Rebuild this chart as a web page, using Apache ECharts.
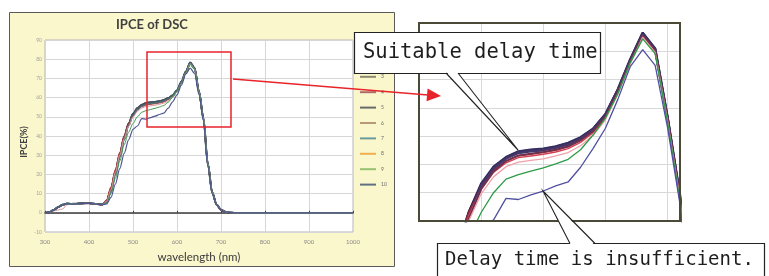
<!DOCTYPE html>
<html>
<head>
<meta charset="utf-8">
<title>IPCE of DSC</title>
<script src="https://cdn.jsdelivr.net/npm/echarts@6/dist/echarts.min.js"></script>
<style>
html, body { margin: 0; padding: 0; background: #fff; }
#main { width: 769px; height: 276px; }
</style>
</head>
<body>
<div id="main"></div>
<script>
// wavelength (nm)
const wavelength = [300, 310, 320, 330, 340, 350, 360, 370, 380, 390,
  400, 410, 420, 430, 440, 450, 460, 470, 480, 490,
  500, 510, 520, 530, 540, 550, 560, 570, 580, 590,
  600, 610, 620, 630, 640, 650, 660, 670, 680, 690,
  700, 710, 720, 730, 1000];

// IPCE(%) for each delay setting
const ipce1 = [0, 0.3, 1.5, 3.0, 4.2, 4.8, 4.6, 4.7, 4.9, 5.0,
  5.0, 4.8, 4.5, 4.3, 6.0, 12.5, 21.5, 30.5, 39.5, 46.5,
  51.6, 54.6, 56.3, 57.3, 57.6, 57.8, 58.2, 58.8, 59.8, 61.3,
  63.9, 68.3, 73.6, 78.3, 75.4, 63.2, 49.2, 25.5, 10.5, 4.2,
  1.6, 0.5, 0.1, 0, 0];
const ipce2 = [0, 0.2, 1.4, 2.9, 4.1, 4.7, 4.6, 4.7, 4.8, 4.9,
  4.9, 4.7, 4.4, 4.2, 6.3, 13.0, 22.0, 31.0, 40.0, 46.6,
  51.4, 54.4, 56.1, 57.1, 57.4, 57.6, 58.0, 58.6, 59.6, 61.1,
  63.7, 68.1, 73.4, 78.1, 75.3, 63.3, 49.5, 26.0, 10.8, 4.3,
  1.6, 0.5, 0.1, 0, 0];
const ipce3 = [0, 0.3, 1.5, 3.0, 4.2, 4.8, 4.7, 4.7, 4.9, 5.0,
  5.0, 4.8, 4.5, 4.3, 5.8, 12.0, 21.0, 30.0, 39.0, 46.2,
  51.3, 54.4, 56.2, 57.2, 57.5, 57.7, 58.1, 58.7, 59.7, 61.2,
  63.8, 68.2, 73.5, 78.2, 75.5, 63.4, 49.6, 25.8, 10.6, 4.2,
  1.5, 0.5, 0.1, 0, 0];
const ipce4 = [0, 0.2, 1.3, 2.8, 4.0, 4.7, 4.6, 4.6, 4.8, 4.9,
  4.9, 4.7, 4.4, 4.3, 6.6, 13.5, 22.5, 31.5, 40.0, 46.4,
  51.0, 54.0, 55.6, 56.5, 56.8, 57.1, 57.5, 58.1, 59.2, 60.8,
  63.4, 67.9, 73.2, 77.9, 75.1, 63.0, 49.0, 25.2, 10.4, 4.1,
  1.5, 0.5, 0.1, 0, 0];
const ipce5 = [0, 0.3, 1.5, 3.1, 4.3, 4.9, 4.7, 4.8, 4.9, 5.0,
  5.0, 4.8, 4.6, 4.4, 5.6, 11.5, 20.5, 29.5, 38.5, 45.8,
  51.2, 54.3, 56.0, 57.0, 57.3, 57.5, 57.9, 58.5, 59.5, 61.0,
  63.6, 68.0, 73.3, 78.0, 75.2, 63.1, 49.3, 25.6, 10.7, 4.3,
  1.6, 0.6, 0.1, 0, 0];
const ipce6 = [0, 0.2, 1.4, 2.9, 4.1, 4.7, 4.6, 4.7, 4.8, 4.9,
  4.9, 4.7, 4.4, 4.2, 6.2, 12.8, 21.8, 30.8, 39.5, 45.9,
  50.6, 53.6, 55.3, 56.2, 56.5, 56.8, 57.2, 57.8, 58.9, 60.6,
  63.2, 67.7, 73.0, 77.7, 74.9, 62.8, 48.8, 25.0, 10.3, 4.1,
  1.5, 0.5, 0.1, 0, 0];
const ipce7 = [0, 0.3, 1.4, 3.0, 4.2, 4.8, 4.6, 4.7, 4.8, 4.9,
  5.0, 4.8, 4.5, 4.3, 5.4, 11.0, 20.0, 29.0, 38.0, 45.3,
  50.6, 53.8, 55.6, 56.6, 56.9, 57.2, 57.6, 58.2, 59.3, 60.9,
  63.5, 67.9, 73.2, 77.9, 75.2, 63.2, 49.4, 25.7, 10.8, 4.3,
  1.6, 0.6, 0.1, 0, 0];
const ipce8 = [0, 0.2, 1.0, 1.5, 2.0, 4.2, 4.5, 4.6, 4.8, 4.9,
  4.9, 4.7, 4.4, 4.2, 5.8, 12.0, 21.0, 30.0, 38.5, 45.0,
  49.8, 52.8, 54.6, 55.4, 55.7, 56.0, 56.5, 57.1, 58.3, 60.1,
  62.9, 67.4, 72.8, 77.5, 74.8, 62.7, 48.9, 25.2, 10.4, 4.1,
  1.5, 0.5, 0.1, 0, 0];
const ipce9 = [0, 0.2, 1.3, 2.8, 4.0, 4.6, 4.5, 4.6, 4.8, 4.9,
  4.9, 4.7, 4.4, 4.2, 5.2, 10.0, 18.0, 27.0, 35.5, 42.0,
  46.5, 50.0, 52.4, 53.2, 53.8, 54.4, 55.1, 55.9, 57.6, 60.2,
  63.2, 67.5, 73.0, 77.2, 74.6, 62.5, 48.6, 25.0, 10.3, 4.1,
  1.5, 0.5, 0.1, 0, 0];
const ipce10 = [0, 0.3, 1.3, 2.8, 4.0, 4.6, 4.5, 4.6, 4.8, 4.9,
  4.9, 4.7, 4.4, 4.2, 4.6, 8.0, 15.0, 23.0, 31.0, 38.0,
  43.5, 45.2, 49.0, 48.8, 49.6, 50.3, 51.2, 51.9, 54.5, 57.8,
  61.4, 66.5, 72.3, 75.3, 72.5, 61.5, 48.0, 24.5, 10.0, 4.0,
  1.5, 0.5, 0.1, 0, 0];

const seriesNames = ['1', '2', '3', '4', '5', '6', '7', '8', '9', '10'];
const curves = [ipce1, ipce2, ipce3, ipce4, ipce5, ipce6, ipce7, ipce8, ipce9, ipce10];

// 轴刻度
const xTicks = { min: 300, max: 1000, step: 100 };
const yTicks = { min: -10, max: 90, step: 10 };
const zoomX = { min: 450, max: 660, step: 50 };
const zoomY = { min: 45, max: 80, step: 5 };

// styles
const mainColors = ['#3d4a58', '#6b2a35', '#4a5866', '#b03a3a', '#3f4d5a',
  '#c04848', '#4d7078', '#d89a9a', '#3f9a55', '#4f5690'];
const mainWidths = [1.8, 1.5, 1.8, 1.2, 1.8, 1.2, 1.5, 1, 1, 1.2];
const zoomColors = ['#2e2a5c', '#5a1830', '#3a3060', '#b02838', '#44386a',
  '#d04050', '#6a3050', '#f0a0a8', '#2e9a48', '#5050a0'];
const zoomWidths = [2.4, 2, 2.4, 1.4, 2.2, 1.4, 1.8, 1.3, 1.3, 1.3];
const legendColors = ['#8a8a70', '#b06a6a', '#8a8a70', '#b06a6a', '#6a6a6a',
  '#b89a7a', '#6a9a9a', '#f0b050', '#98c070', '#607080'];

function toPairs(vals) {
  return wavelength.map((w, i) => [w, vals[i]]);
}

const chart = echarts.init(document.getElementById('main'), null, { renderer: 'canvas' });

const series = [];
curves.forEach((vals, i) => {
  series.push({
    name: seriesNames[i],
    type: 'line',
    xAxisIndex: 0,
    yAxisIndex: 0,
    data: toPairs(vals),
    symbol: 'none',
    smooth: 0.3,
    smoothMonotone: 'x',
    lineStyle: { color: mainColors[i], width: mainWidths[i] },
    itemStyle: { color: mainColors[i] }
  });
});
// 放大图
curves.forEach((vals, i) => {
  series.push({
    name: seriesNames[i],
    type: 'line',
    xAxisIndex: 2,
    yAxisIndex: 1,
    data: toPairs(vals),
    symbol: 'none',
    clip: true,
    lineStyle: { color: zoomColors[i], width: zoomWidths[i] },
    itemStyle: { color: zoomColors[i] }
  });
});

const gridLine = { lineStyle: { color: '#d6d6d6', width: 1 } };

chart.setOption({
  animation: false,
  backgroundColor: '#fff',
  textStyle: { fontFamily: 'Lato' },
  title: {
    text: 'IPCE of DSC',
    left: 116,
    top: 18,
    padding: 0,
    textStyle: { fontSize: 13, fontWeight: 'bold', color: '#404040', fontFamily: 'Lato' }
  },
  legend: {
    orient: 'vertical',
    left: 360,
    top: 42,
    padding: 0,
    icon: 'rect',
    itemWidth: 16,
    itemHeight: 2,
    itemGap: 7.4,
    textStyle: { fontSize: 5, color: '#666', lineHeight: 8 },
    data: seriesNames.map((n, i) => ({ name: n, itemStyle: { color: legendColors[i] } }))
  },
  grid: [
    { left: 45, top: 40, width: 308, height: 192, show: true,
      backgroundColor: '#fff', borderColor: '#b5b5b5', borderWidth: 1 },
    { left: 419, top: 23, width: 261, height: 198, show: true,
      backgroundColor: '#fff', borderColor: '#4b4a36', borderWidth: 2 }
  ],
  xAxis: [
    {
      gridIndex: 0, type: 'value', min: xTicks.min, max: xTicks.max, interval: xTicks.step,
      axisLine: { show: false, onZero: false },
      axisTick: { show: false },
      axisLabel: { fontSize: 6, color: '#888', margin: 7, formatter: v => String(v) },
      splitLine: gridLine,
      name: 'wavelength (nm)', nameLocation: 'middle', nameGap: 19,
      nameTextStyle: { fontSize: 11.5, color: '#3a3a3a', fontFamily: 'Lato' }
    },
    {
      // 零线
      gridIndex: 0, type: 'value', min: xTicks.min, max: xTicks.max, interval: xTicks.step,
      position: 'top',
      axisLine: { show: true, onZero: true, lineStyle: { color: '#3c3c3c', width: 1.5 } },
      axisTick: { show: true, length: 2, lineStyle: { color: '#3c3c3c' } },
      axisLabel: { show: false },
      splitLine: { show: false }
    },
    {
      gridIndex: 1, type: 'value', min: zoomX.min, max: zoomX.max, interval: zoomX.step,
      axisLine: { show: false, onZero: false },
      axisTick: { show: false },
      axisLabel: { show: false },
      splitLine: { lineStyle: { color: '#d8d8d8', width: 1 } }
    }
  ],
  yAxis: [
    {
      gridIndex: 0, type: 'value', min: yTicks.min, max: yTicks.max, interval: yTicks.step,
      axisLine: { show: false, onZero: false },
      axisTick: { show: false },
      axisLabel: { fontSize: 5, color: '#a0a0a0', margin: 3 },
      splitLine: gridLine
    },
    {
      gridIndex: 1, type: 'value', min: zoomY.min, max: zoomY.max, interval: zoomY.step,
      axisLine: { show: false, onZero: false },
      axisTick: { show: false },
      axisLabel: { show: false },
      splitLine: { lineStyle: { color: '#d8d8d8', width: 1 } }
    }
  ],
  series: series,
  graphic: [
    // 黄色底板
    { type: 'rect', z: -5, silent: true,
      shape: { x: 9.5, y: 12.5, width: 385, height: 254 },
      style: { fill: '#fbf7cd', stroke: '#5a5a5a', lineWidth: 1 } },
    { type: 'text', z: 10, x: 24, y: 142, rotation: Math.PI / 2,
      style: { text: 'IPCE(%)', fontSize: 9, fontWeight: 'bold', fontFamily: 'Lato',
        fill: '#404040', align: 'center', verticalAlign: 'middle' } },
    // 放大图边框
    { type: 'rect', z: 20, silent: true,
      shape: { x: 419, y: 23, width: 261, height: 198 },
      style: { fill: 'none', stroke: '#4b4a36', lineWidth: 2 } },
    // 红框和箭头
    { type: 'rect', z: 30,
      shape: { x: 147, y: 52, width: 84, height: 75 },
      style: { fill: 'none', stroke: '#e8232a', lineWidth: 1.5 } },
    { type: 'line', z: 30,
      shape: { x1: 233, y1: 79, x2: 428, y2: 95 },
      style: { stroke: '#e8232a', lineWidth: 1.5 } },
    { type: 'polygon', z: 30,
      shape: { points: [[441, 96], [427.6, 88.4], [426.5, 101.3]] },
      style: { fill: '#e8232a' } },
    // callout 1
    { type: 'rect', z: 40,
      shape: { x: 354.5, y: 32.5, width: 246, height: 41 },
      style: { fill: '#fff', stroke: '#222', lineWidth: 1.2 } },
    { type: 'polygon', z: 41,
      shape: { points: [[446.5, 72], [518, 150], [457.5, 72]] },
      style: { fill: '#fff' } },
    { type: 'polyline', z: 42,
      shape: { points: [[446, 73], [518, 150], [458, 73]] },
      style: { fill: 'none', stroke: '#222', lineWidth: 1.1 } },
    { type: 'text', z: 43, x: 363, y: 53,
      style: { text: 'Suitable delay time', fontSize: 20.5, fontFamily: 'DejaVu Sans Mono',
        fill: '#1e1e1e', align: 'left', verticalAlign: 'middle' } },
    // callout 2
    { type: 'rect', z: 40,
      shape: { x: 437.5, y: 243.5, width: 327, height: 40 },
      style: { fill: '#fff', stroke: '#222', lineWidth: 1.2 } },
    { type: 'polygon', z: 41,
      shape: { points: [[570.5, 245], [543, 191], [594.5, 245]] },
      style: { fill: '#fff' } },
    { type: 'polyline', z: 42,
      shape: { points: [[570, 243.5], [543, 191], [595, 243.5]] },
      style: { fill: 'none', stroke: '#222', lineWidth: 1.1 } },
    { type: 'text', z: 43, x: 445, y: 260,
      style: { text: 'Delay time is insufficient.', fontSize: 19, fontFamily: 'DejaVu Sans Mono',
        fill: '#1e1e1e', align: 'left', verticalAlign: 'middle' } }
  ]
});
</script>
</body>
</html>
